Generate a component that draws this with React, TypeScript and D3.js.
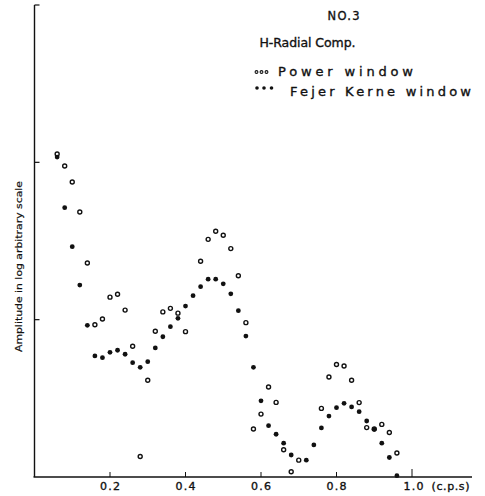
import React from "react";
import * as d3 from "d3";

// Frequencies (c.p.s) and spectral amplitudes (arbitrary units, log scale)
const powerFreq = [0.06, 0.08, 0.10, 0.12, 0.14, 0.16, 0.18, 0.20, 0.22, 0.24, 0.26, 0.28, 0.30, 0.32, 0.34, 0.36, 0.38, 0.40, 0.44, 0.46, 0.48, 0.50, 0.52, 0.54, 0.56, 0.58, 0.60, 0.62, 0.64, 0.66, 0.68, 0.70, 0.76, 0.78, 0.80, 0.82, 0.84, 0.86, 0.88, 0.90, 0.92, 0.94, 0.96];
const powerAmp = [113, 94.8, 75.0, 48.3, 22.9, 9.29, 10.1, 13.9, 14.5, 11.5, 6.77, 1.35, 4.12, 8.44, 11.2, 11.8, 11.0, 8.39, 23.5, 32.4, 36.5, 34.4, 28.3, 19.0, 9.57, 2.02, 2.51, 3.73, 2.98, 1.49, 1.08, 1.28, 2.73, 4.32, 5.19, 5.08, 4.12, 2.97, 2.06, 2.02, 2.16, 1.92, 1.42];

const fejerFreq = [0.06, 0.08, 0.10, 0.12, 0.14, 0.16, 0.18, 0.20, 0.22, 0.24, 0.26, 0.28, 0.30, 0.32, 0.34, 0.36, 0.38, 0.40, 0.42, 0.44, 0.46, 0.48, 0.50, 0.52, 0.54, 0.56, 0.58, 0.60, 0.62, 0.64, 0.66, 0.68, 0.72, 0.74, 0.76, 0.78, 0.80, 0.82, 0.84, 0.86, 0.88, 0.90, 0.92, 0.94, 0.96];
const fejerAmp = [108, 51.5, 29.1, 16.6, 9.21, 5.88, 5.73, 6.20, 6.39, 6.03, 5.33, 4.98, 5.41, 6.61, 7.79, 9.02, 10.2, 12.2, 14.2, 16.2, 18.1, 18.1, 16.9, 14.6, 11.4, 7.87, 4.98, 3.05, 2.12, 1.87, 1.64, 1.38, 1.28, 1.60, 2.05, 2.44, 2.76, 2.94, 2.79, 2.60, 2.27, 2.01, 1.64, 1.33, 1.02];

const xTicks = [0.2, 0.4, 0.6, 0.8];
const xTickLabels = ["0.2", "0.4", "0.6", "0.8"];
const yTicks = [10, 100, 1000];

const titleLines = ["NO.3", "H-Radial Comp."];
const seriesNames = ["Power window", "Fejer Kerne window"];

const W = 485;
const H = 496;
const FONT = "'DejaVu Sans', sans-serif";

export default function App() {
  const x = d3.scaleLinear().domain([0, 1]).range([34.5, 412]);
  const y = d3.scaleLog().domain([1, 1000]).range([477, 5]);

  const power = powerFreq.map((f, i) => ({ f, a: powerAmp[i] }));
  const fejer = fejerFreq.map((f, i) => ({ f, a: fejerAmp[i] }));

  const ink = "#111";
  // a thin outline thickens the lettering a little
  const textStyle = { fill: ink, stroke: ink, strokeWidth: 0.35 };

  return (
    <svg
      width={W}
      height={H}
      style={{ position: "absolute", left: 0, top: 0, background: "#fff" }}
      fontFamily={FONT}
    >
      <rect width={W} height={H} fill="#fff" />

      {/* axes */}
      <line x1={x(0)} y1={y(1000)} x2={x(0)} y2={y(1)} stroke={ink} strokeWidth={1.4} />
      <line x1={x(0) - 1} y1={y(1)} x2={472} y2={y(1)} stroke={ink} strokeWidth={1.4} />

      {yTicks.map((t) => (
        <line key={t} x1={x(0)} x2={x(0) + 5} y1={y(t)} y2={y(t)} stroke={ink} strokeWidth={1.2} />
      ))}

      {xTicks.map((t) => (
        <line key={t} x1={x(t)} x2={x(t)} y1={y(1)} y2={y(1) - 5} stroke={ink} strokeWidth={1} />
      ))}
      <line x1={x(1)} x2={x(1)} y1={y(1)} y2={y(1) - 8} stroke={ink} strokeWidth={1} />

      {xTicks.map((t, i) => (
        <text
          key={t}
          x={x(t)}
          y={489.5}
          textAnchor="middle"
          fontSize={11}
          style={textStyle}
          textLength={20}
          lengthAdjust="spacing"
        >
          {xTickLabels[i]}
        </text>
      ))}
      <text x={403.5} y={489.5} fontSize={11} style={textStyle} textLength={20} lengthAdjust="spacing">
        1.0
      </text>
      <text x={431.5} y={489.5} fontSize={11} style={textStyle} textLength={38} lengthAdjust="spacing">
        (c.p.s)
      </text>

      {/* y-axis title */}
      <text
        transform={`translate(21.8, 352) rotate(-90)`}
        fontSize={9}
        style={{ fill: ink, stroke: ink, strokeWidth: 0.2 }}
        textLength={171}
        lengthAdjust="spacingAndGlyphs"
      >
        Amplitude in log arbitrary scale
      </text>

      {/* data */}
      {power.map((d, i) => (
        <circle
          key={"p" + i}
          cx={x(d.f)}
          cy={y(d.a)}
          r={2}
          fill="#fff"
          stroke={ink}
          strokeWidth={1.4}
        />
      ))}
      {fejer.map((d, i) => (
        <circle key={"f" + i} cx={x(d.f)} cy={y(d.a)} r={2.4} fill={ink} />
      ))}

      {/* title and legend */}
      <text x={327.5} y={19.5} fontSize={11.5} style={textStyle} textLength={32} lengthAdjust="spacing">
        {titleLines[0]}
      </text>
      <text x={259.5} y={46.5} fontSize={12.5} style={textStyle} textLength={96} lengthAdjust="spacing">
        {titleLines[1]}
      </text>

      {[256.5, 261.5, 266.5].map((cx) => (
        <circle key={"lp" + cx} cx={cx} cy={72} r={1.4} fill="#fff" stroke={ink} strokeWidth={1.1} />
      ))}
      <text x={278} y={75.5} fontSize={13} style={textStyle} textLength={135} lengthAdjust="spacing">
        {seriesNames[0]}
      </text>

      {[257, 264, 271.5].map((cx) => (
        <circle key={"lf" + cx} cx={cx} cy={88} r={1.8} fill={ink} />
      ))}
      <text x={290} y={95.5} fontSize={13} style={textStyle} textLength={181} lengthAdjust="spacing">
        {seriesNames[1]}
      </text>
    </svg>
  );
}
